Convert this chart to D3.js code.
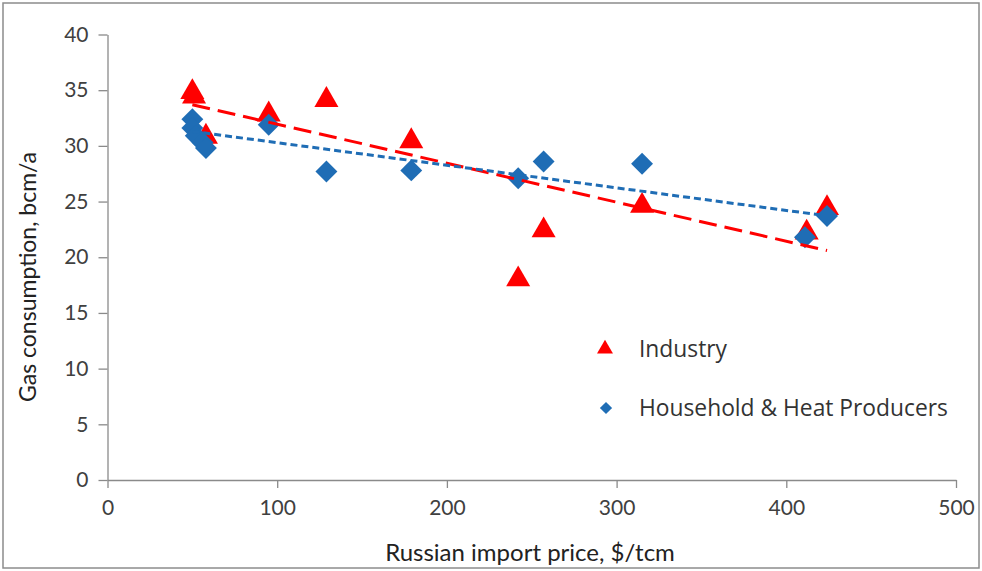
<!DOCTYPE html>
<html><head><meta charset="utf-8">
<script src="https://cdn.jsdelivr.net/npm/d3@7"></script>
<style>html,body{margin:0;padding:0;background:#fff}svg{display:block}</style>
</head><body>
<script>
// Data
const industryX = [50, 51, 58, 95, 129, 179, 242, 257, 315, 412, 424];
const industryY = [35.0, 34.6, 31.0, 33.0, 34.3, 30.6, 18.2, 22.6, 24.8, 22.4, 24.6];
const householdX = [50, 50, 52, 56, 58, 95, 129, 179, 242, 257, 315, 411, 424];
const householdY = [32.4, 31.6, 30.9, 30.3, 29.8, 31.9, 27.7, 27.8, 27.1, 28.6, 28.4, 21.8, 23.7];
const industryTrend = [[50, 33.7], [424, 20.6]];
const householdTrend = [[50, 31.3], [420, 23.8]];
const xTicks = [0, 100, 200, 300, 400, 500];
const yTicks = [0, 5, 10, 15, 20, 25, 30, 35, 40];
const seriesNames = ["Industry", "Household & Heat Producers"];
const colors = {industry: "#FF0000", household: "#1F6DB5"};

const W = 982, H = 571;
const svg = d3.select("body").append("svg").attr("width", W).attr("height", H);
svg.append("rect").attr("x", 3).attr("y", 3).attr("width", W - 6).attr("height", H - 6)
  .attr("fill", "#fff").attr("stroke", "#8c8c8c").attr("stroke-width", 1.5);

const x = d3.scaleLinear().domain([0, 500]).range([107.5, 956]);
const y = d3.scaleLinear().domain([0, 40]).range([480, 34.5]);
const font = "Lato, 'Open Sans', sans-serif";

// axes
const xAxis = svg.append("g").attr("transform", `translate(0,${y(0)})`)
  .call(d3.axisBottom(x).tickValues(xTicks).tickSize(8).tickSizeOuter(0).tickPadding(12));
const yAxis = svg.append("g").attr("transform", `translate(${x(0)},0)`)
  .call(d3.axisLeft(y).tickValues(yTicks).tickSize(9).tickSizeOuter(0).tickPadding(10));
[xAxis, yAxis].forEach(g => {
  g.select(".domain").attr("stroke", "#8a8a8a").attr("stroke-width", 1.3);
  g.selectAll(".tick line").attr("stroke", "#8a8a8a").attr("stroke-width", 1.3);
  g.selectAll(".tick text").attr("fill", "#404040").style("font-family", font).style("font-size", "21px");
});

// titles
svg.append("text").attr("x", 530).attr("y", 561).attr("text-anchor", "middle")
  .style("font-family", font).style("font-size", "24px").attr("fill", "#222")
  .text("Russian import price, $/tcm");
svg.append("text").attr("transform", "translate(36,277) rotate(-90)").attr("text-anchor", "middle")
  .style("font-family", font).style("font-size", "23px").attr("fill", "#222")
  .text("Gas consumption, bcm/a");

const tri = d3.symbol().type(d3.symbolTriangle);
const dia = d3.symbol().type(d3.symbolSquare);

const line = d3.line().x(d => x(d[0])).y(d => y(d[1]));

const indData = industryX.map((v, i) => [v, industryY[i]]);
const hhData = householdX.map((v, i) => [v, householdY[i]]);

svg.append("g").selectAll("path").data(indData).join("path")
  .attr("d", tri.size(250)())
  .attr("transform", d => `translate(${x(d[0])},${y(d[1]) + 2})`)
  .attr("fill", colors.industry);

svg.append("g").selectAll("path").data(hhData).join("path")
  .attr("d", dia.size(240)())
  .attr("transform", d => `translate(${x(d[0])},${y(d[1])}) rotate(45)`)
  .attr("fill", colors.household);

svg.append("path").datum(industryTrend).attr("d", line)
  .attr("fill", "none").attr("stroke", colors.industry).attr("stroke-width", 3)
  .attr("stroke-dasharray", "18,8");
svg.append("path").datum(householdTrend).attr("d", line)
  .attr("fill", "none").attr("stroke", colors.household).attr("stroke-width", 3)
  .attr("stroke-dasharray", "7,4");

// legend
const lg = svg.append("g");
lg.append("path").attr("d", tri.size(110)()).attr("transform", "translate(605,349)").attr("fill", colors.industry);
lg.append("path").attr("d", dia.size(75)()).attr("transform", "translate(606,408) rotate(45)").attr("fill", colors.household);
lg.selectAll("text").data(seriesNames).join("text")
  .attr("x", 639).attr("y", (d, i) => 357 + i * 59)
  .style("font-family", "'Open Sans', sans-serif").style("font-size", "22.8px").attr("fill", "#333")
  .text(d => d);
</script>
</body></html>
